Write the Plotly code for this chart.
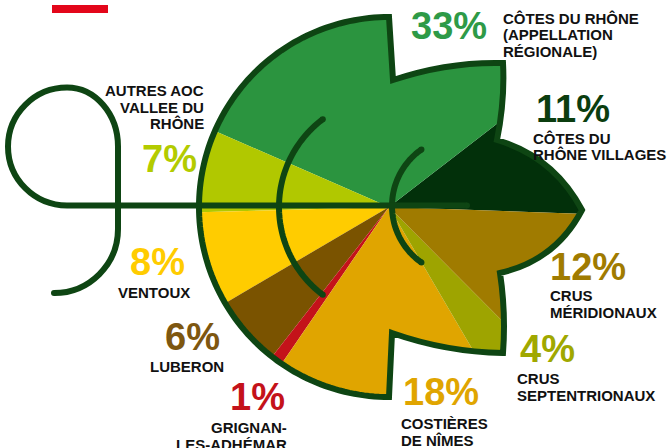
import numpy as np
import plotly.graph_objects as go

# ---------------- data ----------------
categories = [
    "Côtes du Rhône Villages",
    "Côtes du Rhône (appellation régionale)",
    "Autres AOC Vallée du Rhône",
    "Ventoux",
    "Luberon",
    "Grignan-les-Adhémar",
    "Costières de Nîmes",
    "Crus septentrionaux",
    "Crus méridionaux",
]
shares = [11, 33, 7, 8, 6, 1, 18, 4, 12]
name_lines = [
    ["CÔTES DU", "RHÔNE VILLAGES"],
    ["CÔTES DU RHÔNE", "(APPELLATION", "RÉGIONALE)"],
    ["AUTRES AOC", "VALLEE DU", "RHÔNE"],
    ["VENTOUX"],
    ["LUBERON"],
    ["GRIGNAN-", "LES-ADHÉMAR"],
    ["COSTIÈRES", "DE NÎMES"],
    ["CRUS", "SEPTENTRIONAUX"],
    ["CRUS", "MÉRIDIONAUX"],
]

# ---------------- style ----------------
slice_colors = ["#02300A", "#2B943F", "#B1C800", "#FFCC00", "#7A5300",
                "#C4121A", "#E0A500", "#9EA400", "#A07B00"]
pct_colors = ["#0B3D0F", "#2E9A47", "#B3CB00", "#FFCC00", "#7E5710",
              "#C4121A", "#E0A500", "#A0A800", "#A07B00"]
# label placement: (anchor, x of percent, y of percent, x of name, y of first name line)
label_pos = [
    ("left", 536, 108.5, 533, 138.3),
    ("left", 411, 26, 503, 18.3),
    ("right", 197, 159, 204, 90.5),
    ("right", 185, 261.5, 190, 292),
    ("right", 220, 336.5, 224, 366),
    ("right", 285, 396.5, 287, 427.5),
    ("left", 403, 391.5, 401, 423.7),
    ("left", 520, 348.5, 517, 378.7),
    ("left", 550, 266.5, 550, 295.5),
]
LINE_GAP = 16.6
LINE_COLOR = "#0E4513"
LW = 6

W, H = 668, 448
CX, CY, R = 389, 207, 190
START_DEG = -2.0


def px(x):
    return x / W


def py(y):
    return 1 - y / H


def pt(x, y):
    return f"{px(x):.5f},{py(y):.5f}"


total = sum(shares)
rotation = 90 - START_DEG - shares[0] / total * 360

fig = go.Figure()
fig.add_trace(go.Pie(
    labels=categories, values=shares, sort=False,
    direction="counterclockwise", rotation=rotation,
    marker=dict(colors=slice_colors, line=dict(width=0)),
    textinfo="none", hoverinfo="label+percent",
    domain=dict(x=[px(CX - R), px(CX + R)], y=[py(CY + R), py(CY - R)]),
))

# ---------------- leaf outline ----------------
arc_pts = [(CX + R * np.cos(t), CY - R * np.sin(t))
           for t in np.radians(np.linspace(90, 270, 121))]
leaf = "M" + " L".join(pt(*p) for p in arc_pts)
leaf += (" L" + pt(392, 333)
         + " Q" + pt(446, 352) + " " + pt(503, 353)
         + " Q" + pt(506, 313) + " " + pt(500, 273)
         + " Q" + pt(555.6, 260.5) + " " + pt(582, 210)
         + " Q" + pt(554, 157) + " " + pt(497, 140)
         + " Q" + pt(505, 100) + " " + pt(503, 63)
         + " Q" + pt(448, 61.5) + " " + pt(393, 80)
         + " Z")

outer = [(CX + (R + 8) * np.cos(t), CY - (R + 8) * np.sin(t))
         for t in np.radians(np.linspace(0, 360, 181))]
mask = "M" + " L".join(pt(*p) for p in outer) + " Z " + leaf

shapes = []
shapes.append(dict(type="path", xref="paper", yref="paper", path=mask,
                   fillcolor="white", fillrule="evenodd", line=dict(width=0),
                   layer="above"))


def arc_path(cx, cy, r, a0, a1, n=60):
    pts = [(cx + r * np.cos(t), cy - r * np.sin(t))
           for t in np.radians(np.linspace(a0, a1, n))]
    return "M" + " L".join(pt(*p) for p in pts), pts[0], pts[-1]


caps = []
for (cx, cy, r, a0, a1) in [(CX, CY, 110, 127, 233), (461, 206, 69, 125, 235)]:
    p, e0, e1 = arc_path(cx, cy, r, a0, a1)
    shapes.append(dict(type="path", xref="paper", yref="paper", path=p,
                       line=dict(color=LINE_COLOR, width=LW), layer="above"))
    caps += [e0, e1]

# stem with the "9" loop
k = 0.5523
SY = 205.5
lcx, lcy, lr = 67, SY - 59, 59
nine = ("M" + pt(54, 293)
        + " C" + pt(54 + k * 64, 293) + " " + pt(118, 229 + k * 64) + " " + pt(118, 229)
        + " L" + pt(118, lcy)
        + " C" + pt(118, lcy - k * lr) + " " + pt(lcx + k * 51, lcy - lr) + " " + pt(lcx, lcy - lr)
        + " C" + pt(lcx - k * lr, lcy - lr) + " " + pt(lcx - lr, lcy - k * lr) + " " + pt(lcx - lr, lcy)
        + " C" + pt(lcx - lr, lcy + k * lr) + " " + pt(lcx - k * lr, SY) + " " + pt(lcx, SY)
        + " L" + pt(467, SY))
shapes.append(dict(type="path", xref="paper", yref="paper", path=nine,
                   line=dict(color=LINE_COLOR, width=LW), layer="above"))
caps += [(54, 293), (467, SY)]

shapes.append(dict(type="path", xref="paper", yref="paper", path=leaf,
                   fillcolor="rgba(0,0,0,0)", line=dict(color=LINE_COLOR, width=LW),
                   layer="above"))

for (x, y) in caps:
    rr = LW / 2
    shapes.append(dict(type="circle", xref="paper", yref="paper",
                       x0=px(x - rr), x1=px(x + rr), y0=py(y + rr), y1=py(y - rr),
                       fillcolor=LINE_COLOR, line=dict(width=0), layer="above"))

# red bar top-left
shapes.append(dict(type="rect", xref="paper", yref="paper",
                   x0=px(52), x1=px(108), y0=py(13), y1=py(5),
                   fillcolor="#E3061A", line=dict(width=0), layer="above"))

# ---------------- labels ----------------
FONT = "Liberation Sans, Arial, Helvetica, sans-serif"
annotations = []
for i, (anchor, xp, yp, xn, yn) in enumerate(label_pos):
    annotations.append(dict(
        text=f"{shares[i]}%", x=px(xp), y=py(yp), xref="paper", yref="paper",
        xanchor=anchor, yanchor="middle", showarrow=False, borderpad=0, borderwidth=0,
        font=dict(family=FONT, size=38, color=pct_colors[i], weight="bold")))
    for j, line in enumerate(name_lines[i]):
        annotations.append(dict(
            text=line, x=px(xn), y=py(yn + j * LINE_GAP), xref="paper", yref="paper",
            xanchor=anchor, yanchor="middle", showarrow=False, borderpad=0, borderwidth=0,
            font=dict(family=FONT, size=15, color="#111111", weight="bold")))

fig.update_layout(
    width=W, height=H, margin=dict(l=0, r=0, t=0, b=0),
    paper_bgcolor="white", plot_bgcolor="white", showlegend=False,
    shapes=shapes, annotations=annotations,
)
fig.write_html("out.html", config={"displayModeBar": False},
               post_script="document.body.style.margin='0';document.body.style.overflow='hidden';")
